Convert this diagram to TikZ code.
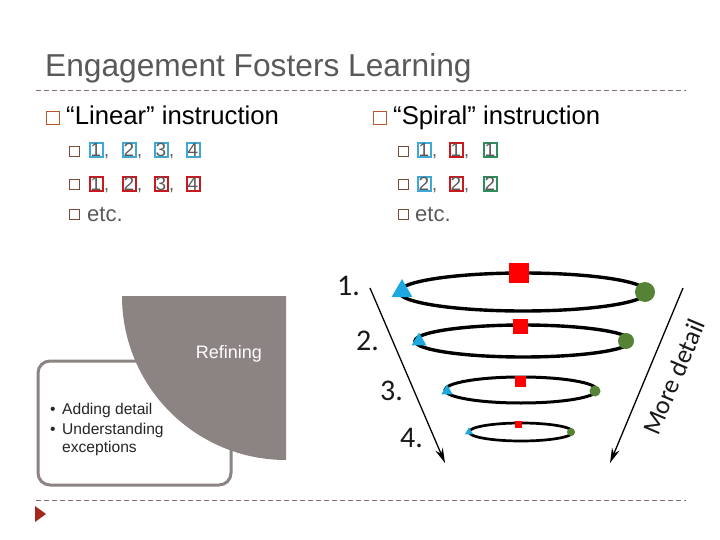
\documentclass[tikz,border=0pt]{standalone}
\usepackage{fontspec}
\setmainfont{Liberation Sans}
\newfontfamily\calfont{Carlito}
\usetikzlibrary{arrows.meta,shapes.geometric}
\definecolor{titlegray}{HTML}{595959}
\definecolor{sepcol}{HTML}{7F6E69}
\definecolor{hbulcol}{HTML}{B5562F}
\definecolor{sbulcol}{HTML}{7B4B3B}
\definecolor{digblue}{HTML}{3FA9D5}
\definecolor{digred}{HTML}{C8191F}
\definecolor{diggreen}{HTML}{2D8E5C}
\definecolor{discgray}{HTML}{8C8383}
\definecolor{markred}{HTML}{A5281F}
\definecolor{triblue}{HTML}{1EA8E0}
\definecolor{dotgreen}{HTML}{558235}
\tikzset{
  sepline/.style={draw=sepcol, line width=0.9pt, dash pattern=on 5pt off 3pt},
  hbul/.style={draw=hbulcol, line width=1.8pt, minimum size=13pt, inner sep=0pt},
  sbul/.style={draw=sbulcol, line width=0.8pt, minimum size=10pt, inner sep=0pt},
  head/.style={anchor=base west, inner sep=0pt, font=\fontsize{25.7}{30}\selectfont},
  subtxt/.style={anchor=base west, inner sep=0pt, text=titlegray, font=\fontsize{22}{26}\selectfont},
  dig/.style={draw=#1, line width=2pt, minimum width=13pt, minimum height=14pt, inner sep=0pt, text=titlegray, font=\fontsize{19}{19}\selectfont},
  comma/.style={anchor=base west, inner sep=0pt, text=titlegray, font=\fontsize{18}{18}\selectfont},
  btxt/.style={anchor=base west, inner sep=0pt, text=black!85, font=\fontsize{15.6}{18}\selectfont},
  ell/.style={draw=black, line width=3.4pt},
  rsq/.style={fill=red, minimum size=#1, inner sep=0pt},
  btri/.style={fill=triblue, regular polygon, regular polygon sides=3, minimum size=#1, inner sep=0pt},
  gdot/.style={fill=dotgreen, circle, minimum size=#1, inner sep=0pt},
  num/.style={anchor=base west, inner sep=0pt, text=black!90, font=\calfont\fontsize{30}{34}\selectfont},
  darrow/.style={draw=black, line width=1.3pt, -{Stealth[length=15pt,width=8pt]}}
}
\begin{document}
\begin{tikzpicture}[x=1pt,y=-1pt]
\useasboundingbox (0,0) rectangle (720,540);
% title and separators
\node[anchor=base west, inner sep=0pt, text=titlegray, font=\fontsize{31.7}{38}\selectfont] (title) at (45,77) {Engagement Fosters Learning};
\coordinate (s1a) at (36,90); \coordinate (s1b) at (686,90);
\coordinate (s2a) at (36,500); \coordinate (s2b) at (686,500);
\draw[sepline] (s1a) -- (s1b);
\draw[sepline] (s2a) -- (s2b);
\fill[markred] (35,506) -- (46,514) -- (35,522) -- cycle;

% left column
\node[hbul] (hb1) at (53,118) {};
\node[head] (lin) at (66,125) {“Linear” instruction};
\node[sbul] (lb1) at (74,151) {};
\node[sbul] (lb2) at (74,184) {};
\node[sbul] (lb3) at (74,214) {};
\node[dig=digblue] (l11) at (96,150) {1};
\node[comma] (c11) at (104,157) {,};
\node[dig=digblue] (l12) at (129,150) {2};
\node[comma] (c12) at (137,157) {,};
\node[dig=digblue] (l13) at (161,150) {3};
\node[comma] (c13) at (169,157) {,};
\node[dig=digblue] (l14) at (193,150) {4};
\node[dig=digred] (l21) at (96,184) {1};
\node[comma] (c21) at (104,191) {,};
\node[dig=digred] (l22) at (129,184) {2};
\node[comma] (c22) at (137,191) {,};
\node[dig=digred] (l23) at (161,184) {3};
\node[comma] (c23) at (169,191) {,};
\node[dig=digred] (l24) at (193,184) {4};
\node[subtxt] (letc) at (87,222) {etc.};

% right column
\node[hbul] (hb2) at (380,118) {};
\node[head] (spi) at (393,125) {“Spiral” instruction};
\node[sbul] (rb1) at (403,151) {};
\node[sbul] (rb2) at (403,184) {};
\node[sbul] (rb3) at (403,214) {};
\node[dig=digblue] (r11) at (424,150) {1};
\node[comma] (d11) at (432,157) {,};
\node[dig=digred] (r12) at (456,150) {1};
\node[comma] (d12) at (464,157) {,};
\node[dig=diggreen] (r13) at (490,150) {1};
\node[dig=digblue] (r21) at (424,184) {2};
\node[comma] (d21) at (432,191) {,};
\node[dig=digred] (r22) at (456,184) {2};
\node[comma] (d22) at (464,191) {,};
\node[dig=diggreen] (r23) at (490,184) {2};
\node[subtxt] (retc) at (415,222) {etc.};

% left picture
\draw[draw=discgray, line width=3pt, rounded corners=12pt, fill=white] (38,361) rectangle (231,485);
\fill[discgray] (286,296) -- (122,296) arc[start angle=180, end angle=90, radius=164] -- cycle;
\node[inner sep=0pt, text=white, font=\fontsize{18}{20}\selectfont] (refining) at (229,354) {Refining};
\node[btxt] (bu1) at (50,414) {•};
\node[btxt] (t1) at (62,414) {Adding detail};
\node[btxt] (bu2) at (50,434) {•};
\node[btxt] (t2) at (62,434) {Understanding};
\node[btxt] (t3) at (62,452) {exceptions};

% right picture
\draw[ell] (523,292) ellipse [x radius=124, y radius=19];
\draw[ell] (523,341) ellipse [x radius=108, y radius=16];
\draw[ell, line width=3pt] (521,390) ellipse [x radius=76, y radius=13];
\draw[ell, line width=2.7pt] (521,432) ellipse [x radius=52, y radius=9];
\node[rsq=20pt] (q1) at (519,273) {};
\node[rsq=15pt] (q2) at (520,326) {};
\node[rsq=11pt] (q3) at (520,381) {};
\node[rsq=7pt] (q4) at (518,424) {};
\node[btri=24pt] (t1a) at (402,291) {};
\node[btri=17pt] (t2a) at (419,341) {};
\node[btri=13pt] (t3a) at (447,391) {};
\node[btri=9.5pt] (t4a) at (469,432) {};
\node[gdot=20pt] (g1) at (645,292) {};
\node[gdot=16pt] (g2) at (626,341) {};
\node[gdot=11pt] (g3) at (595,391) {};
\node[gdot=8pt] (g4) at (571,432) {};
\node[num] (n1) at (337,295) {1.};
\node[num] (n2) at (356,350) {2.};
\node[num] (n3) at (380,400) {3.};
\node[num] (n4) at (400,447) {4.};
\coordinate (la) at (370,288); \coordinate (lb) at (445,463);
\coordinate (ra) at (683,288); \coordinate (rb) at (610,463);
\draw[darrow] (la) -- (lb);
\draw[darrow] (ra) -- (rb);
\node[inner sep=0pt, rotate=67, text=black!90, font=\calfont\fontsize{26}{30}\selectfont] (more) at (674,377) {More detail};
\end{tikzpicture}
\end{document}
